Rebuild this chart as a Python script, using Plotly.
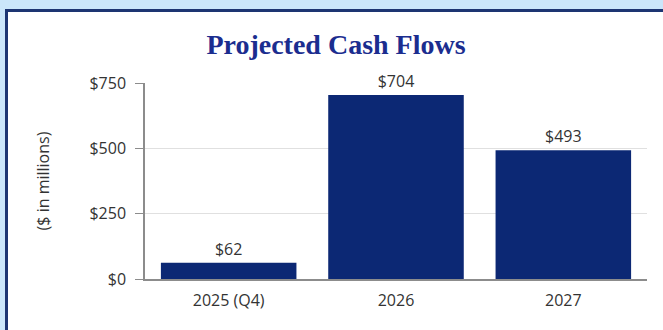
import plotly.graph_objects as go

categories = ["2025 (Q4)", "2026", "2027"]
cash_flows = [62, 704, 493]
bar_labels = ["$62", "$704", "$493"]
y_ticks = [0, 250, 500, 750]
y_tick_labels = ["$0", "$250", "$500", "$750"]

W, H = 663, 330
L, R, T, B = 145, 16, 83, 51
pw, ph = W - L - R, H - T - B

def px_x(x):
    return (x - L) / pw

def px_y(y):
    return (H - B - y) / ph

NAVY_BAR = "#0c2874"
TEXT = "#333333"

fig = go.Figure(
    go.Bar(
        x=categories,
        y=cash_flows,
        text=bar_labels,
        textposition="outside",
        textfont=dict(family="Open Sans", size=16, color=TEXT),
        marker=dict(color=NAVY_BAR, line=dict(width=0)),
        cliponaxis=False,
    )
)

fig.update_layout(
    width=W,
    height=H,
    margin=dict(l=L, r=R, t=T, b=B, pad=0),
    paper_bgcolor="#cbe6fa",
    plot_bgcolor="white",
    bargap=0.19,
    showlegend=False,
    title=dict(
        text="<b>Projected Cash Flows</b>",
        font=dict(family="Liberation Serif", size=28, color="#1b2d8f"),
        x=px_x(336),
        xref="paper",
        xanchor="center",
        y=1 - 44 / H,
        yref="container",
        yanchor="middle",
    ),
    font=dict(family="Open Sans", size=16, color=TEXT),
    shapes=[
        dict(
            type="rect",
            xref="paper",
            yref="paper",
            x0=px_x(6.5),
            x1=px_x(700),
            y0=px_y(380),
            y1=px_y(10.5),
            fillcolor="white",
            line=dict(color="#1d3572", width=3),
            layer="below",
        )
    ],
)

fig.update_xaxes(
    showgrid=False,
    showline=True,
    linecolor="#8c8c8c",
    linewidth=1.5,
    ticks="",
    tickfont=dict(family="Open Sans", size=16, color=TEXT),
    ticklabelstandoff=6,
)

fig.update_yaxes(
    range=[0, 750],
    tickvals=y_ticks,
    ticktext=y_tick_labels,
    showgrid=True,
    gridcolor="#e0e0e0",
    gridwidth=1,
    showline=True,
    linecolor="#8c8c8c",
    linewidth=1.5,
    ticks="outside",
    ticklen=8,
    tickcolor="#8c8c8c",
    tickfont=dict(family="Open Sans", size=16, color=TEXT),
    ticklabelstandoff=6,
    zeroline=False,
    title=dict(
        text="($ in millions)",
        font=dict(family="Open Sans", size=16, color=TEXT),
        standoff=36,
    ),
)

fig.write_html("out.html")
